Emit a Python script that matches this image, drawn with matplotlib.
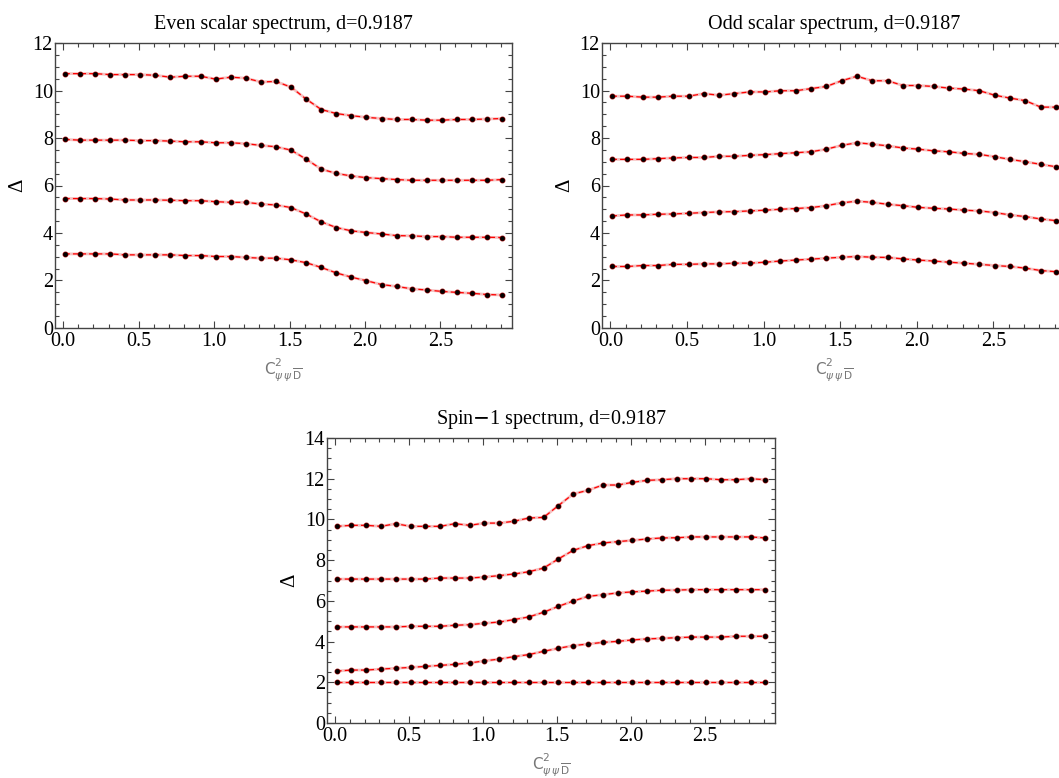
import matplotlib
matplotlib.use('Agg')
import matplotlib.pyplot as plt
from matplotlib.ticker import MultipleLocator

plt.rcParams['font.family'] = ['Liberation Serif', 'DejaVu Serif']
plt.rcParams['mathtext.fontset'] = 'dejavusans'

# coupling values (same grid for all three panels)
c2 = [0.01, 0.11, 0.21, 0.31, 0.41, 0.51, 0.61, 0.71, 0.81, 0.91,
      1.01, 1.11, 1.21, 1.31, 1.41, 1.51, 1.61, 1.71, 1.81, 1.91,
      2.01, 2.11, 2.21, 2.31, 2.41, 2.51, 2.61, 2.71, 2.81, 2.91]

# even scalar spectrum
even_1 = [10.71, 10.71, 10.71, 10.67, 10.67, 10.67, 10.64, 10.56, 10.60, 10.60,
          10.48, 10.56, 10.52, 10.36, 10.38, 10.14, 9.64, 9.20, 9.03, 8.94,
          8.87, 8.82, 8.78, 8.78, 8.75, 8.75, 8.78, 8.78, 8.80, 8.82]
even_2 = [7.94, 7.91, 7.91, 7.91, 7.91, 7.89, 7.89, 7.87, 7.84, 7.84,
          7.80, 7.80, 7.76, 7.69, 7.63, 7.49, 7.11, 6.69, 6.51, 6.40,
          6.33, 6.29, 6.25, 6.22, 6.22, 6.22, 6.22, 6.22, 6.22, 6.25]
even_3 = [5.45, 5.45, 5.45, 5.43, 5.39, 5.39, 5.39, 5.38, 5.36, 5.36,
          5.32, 5.29, 5.29, 5.22, 5.18, 5.07, 4.80, 4.47, 4.23, 4.09,
          4.02, 3.96, 3.89, 3.88, 3.85, 3.85, 3.82, 3.82, 3.82, 3.81]
even_4 = [3.12, 3.12, 3.12, 3.12, 3.08, 3.08, 3.08, 3.08, 3.05, 3.05,
          3.01, 3.01, 2.97, 2.94, 2.94, 2.87, 2.75, 2.55, 2.32, 2.14,
          1.99, 1.83, 1.75, 1.65, 1.60, 1.54, 1.50, 1.46, 1.41, 1.39]

# odd scalar spectrum
odd_1 = [9.76, 9.76, 9.72, 9.72, 9.76, 9.76, 9.87, 9.80, 9.87, 9.94,
         9.94, 9.99, 9.99, 10.08, 10.17, 10.41, 10.60, 10.41, 10.41, 10.21,
         10.21, 10.17, 10.10, 10.06, 9.99, 9.80, 9.68, 9.57, 9.30, 9.30]
odd_2 = [7.10, 7.10, 7.10, 7.13, 7.16, 7.18, 7.18, 7.23, 7.23, 7.27,
         7.30, 7.34, 7.38, 7.42, 7.53, 7.69, 7.80, 7.74, 7.67, 7.58,
         7.53, 7.46, 7.42, 7.35, 7.31, 7.21, 7.10, 7.00, 6.89, 6.79]
odd_3 = [4.72, 4.76, 4.76, 4.79, 4.80, 4.83, 4.86, 4.89, 4.90, 4.93,
         4.96, 5.00, 5.03, 5.07, 5.15, 5.27, 5.34, 5.29, 5.21, 5.15,
         5.08, 5.04, 5.01, 4.96, 4.93, 4.86, 4.76, 4.69, 4.59, 4.52]
odd_4 = [2.59, 2.59, 2.63, 2.63, 2.68, 2.68, 2.70, 2.70, 2.73, 2.73,
         2.77, 2.82, 2.86, 2.90, 2.94, 2.98, 3.01, 2.98, 2.97, 2.91,
         2.86, 2.82, 2.77, 2.73, 2.68, 2.63, 2.59, 2.52, 2.42, 2.37]

# spin-1 spectrum
spin_1 = [9.66, 9.71, 9.71, 9.66, 9.79, 9.66, 9.66, 9.66, 9.79, 9.71,
          9.82, 9.82, 9.91, 10.07, 10.10, 10.68, 11.25, 11.43, 11.69, 11.69,
          11.82, 11.92, 11.95, 12.00, 12.00, 12.00, 11.95, 11.95, 12.00, 11.95]
spin_2 = [7.07, 7.07, 7.07, 7.07, 7.07, 7.07, 7.07, 7.12, 7.12, 7.12,
          7.17, 7.24, 7.32, 7.43, 7.61, 8.06, 8.48, 8.71, 8.84, 8.91,
          8.97, 9.04, 9.09, 9.10, 9.14, 9.14, 9.14, 9.14, 9.14, 9.09]
spin_3 = [4.72, 4.72, 4.72, 4.72, 4.72, 4.75, 4.75, 4.75, 4.80, 4.83,
          4.90, 4.96, 5.08, 5.21, 5.44, 5.73, 5.99, 6.22, 6.30, 6.39,
          6.44, 6.48, 6.52, 6.53, 6.55, 6.55, 6.55, 6.55, 6.55, 6.55]
spin_4 = [2.55, 2.60, 2.60, 2.65, 2.69, 2.73, 2.78, 2.83, 2.88, 2.95,
          3.05, 3.14, 3.26, 3.36, 3.52, 3.67, 3.80, 3.88, 3.96, 4.01,
          4.08, 4.13, 4.16, 4.19, 4.22, 4.22, 4.22, 4.26, 4.26, 4.26]
spin_5 = [2.0] * 30

titles = ['Even scalar spectrum, d=0.9187',
          'Odd scalar spectrum, d=0.9187',
          'Spin$-$1 spectrum, d=0.9187']
xlab = r'$\mathsf{C}^{2}_{\psi\,\psi\,\overline{\mathsf{D}}}$'

W, H = 1059, 778
fig = plt.figure(figsize=(W / 100, H / 100), dpi=100)


def px_axes(l, t, r, b):
    return fig.add_axes([l / W, 1 - b / H, (r - l) / W, (b - t) / H])


def style(ax, ymax, title):
    ax.set_xlim(-0.055, 2.975)
    ax.set_ylim(0, ymax)
    ax.xaxis.set_major_locator(MultipleLocator(0.5))
    ax.xaxis.set_minor_locator(MultipleLocator(0.1))
    ax.yaxis.set_major_locator(MultipleLocator(2))
    ax.yaxis.set_minor_locator(MultipleLocator(0.5))
    ax.xaxis.set_major_formatter(plt.FuncFormatter(lambda v, p: '%.1f' % v))
    ax.tick_params(which='both', direction='in', top=True, right=True,
                   color='#444444', labelsize=14.5, width=0.8)
    ax.tick_params(axis='x', which='both', pad=3)
    ax.tick_params(axis='y', which='both', pad=1.5)
    ax.tick_params(which='major', length=5)
    ax.tick_params(which='minor', length=3)
    for s in ax.spines.values():
        s.set_color('#444444')
        s.set_linewidth(1.0)
    ax.set_title(title, fontsize=14.5, pad=10)
    ax.set_ylabel('Δ', fontsize=15, labelpad=4)
    ax.set_xlabel(xlab, fontsize=11, color='#777777', labelpad=4)


def draw(ax, series):
    for ys in series:
        ax.plot(c2, ys, color='#f6c0c0', lw=2.0, solid_capstyle='round', zorder=2)
        ax.plot(c2, ys, color='red', lw=0.9, ls=(0, (4, 2.5)), zorder=3)
        ax.plot(c2, ys, ls='none', marker='o', ms=3.2, mfc='#a00000',
                mec='#a00000', zorder=4)
        ax.plot(c2, ys, ls='none', marker='o', ms=2.3, mfc='black',
                mec='black', zorder=5)


ax1 = px_axes(55, 43, 512, 328)
draw(ax1, [even_1, even_2, even_3, even_4])
style(ax1, 12, titles[0])

ax2 = px_axes(602, 43, 1066, 328)
draw(ax2, [odd_1, odd_2, odd_3, odd_4])
style(ax2, 12, titles[1])

ax3 = px_axes(327, 438, 775, 723)
draw(ax3, [spin_1, spin_2, spin_3, spin_4, spin_5])
style(ax3, 14, titles[2])

fig.savefig('out.png', dpi=100)
